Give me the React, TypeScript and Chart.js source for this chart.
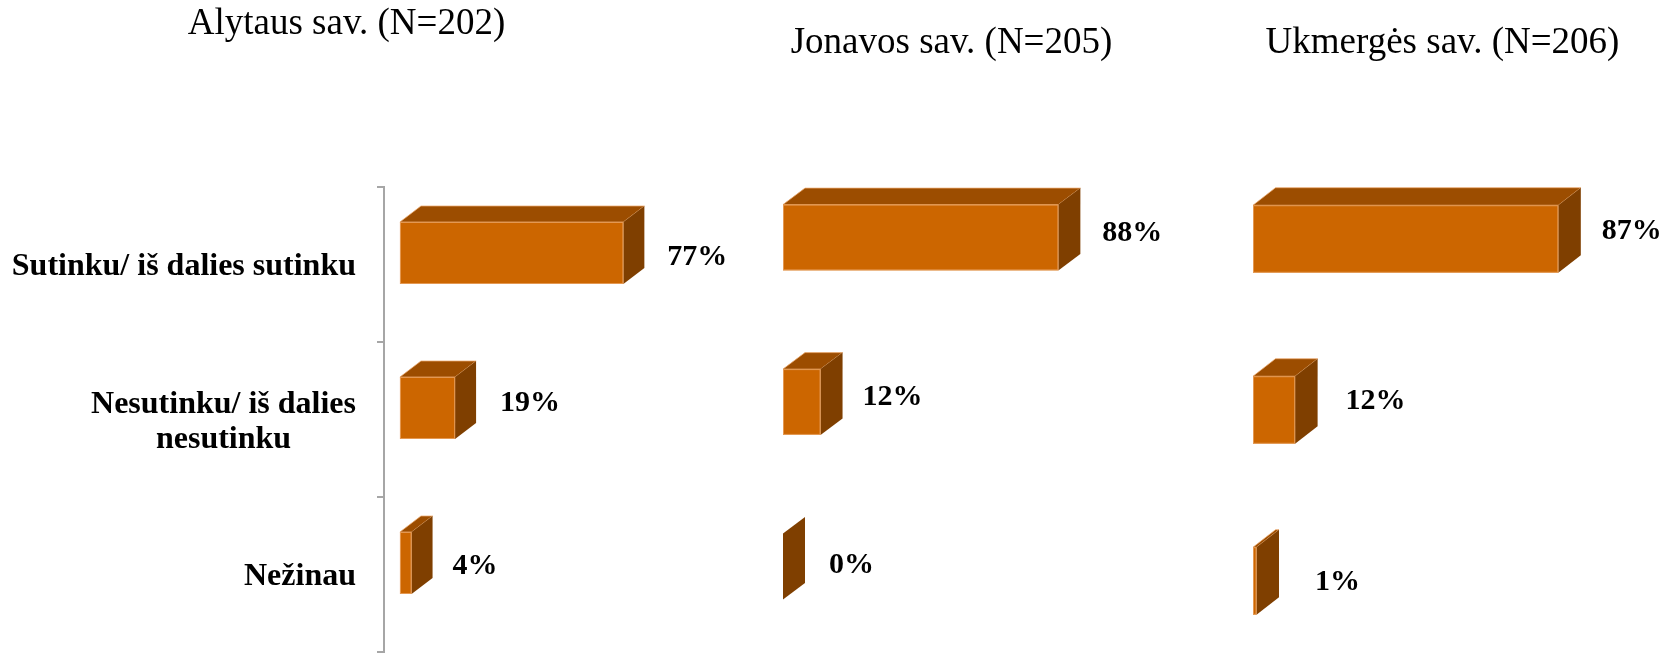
import React, { useEffect, useRef } from "react";
import { Chart, registerables } from "chart.js";

Chart.register(...registerables);

// ---------- data ----------
const categoryLabels: string[][] = [
  ["Sutinku/ iš dalies sutinku"],
  ["Nesutinku/ iš dalies", "nesutinku"],
  ["Nežinau"],
];
const panelTitles = ["Alytaus sav. (N=202)", "Jonavos sav. (N=205)", "Ukmergės sav. (N=206)"];
const alytausValues = [77, 19, 4];
const jonavosValues = [88, 12, 0];
const ukmergesValues = [87, 12, 1];

// ---------- styles ----------
const FRONT = "#CC6600";
const TOP = "#9C4D00";
const SIDE = "#7F3F00";
const EDGE = "rgba(236,170,110,0.75)";
const SERIF = '"Liberation Serif", "Times New Roman", serif';

type Panel = {
  title: string;
  values: number[];
  left: number;
  width: number;
  pad: { left: number; right: number; top: number; bottom: number };
  titlePad: { top: number; bottom: number };
  showAxis: boolean;
  axisWidth: number;
  xMin: number;
  xMax: number;
  barPct: number;
  shiftY: number;
  dx: number;
  dy: number;
  labelGap: number[];
  labelDy: number[];
};

const panels: Panel[] = [
  {
    title: panelTitles[0],
    values: alytausValues,
    left: 0,
    width: 740,
    pad: { left: 0, right: 47, top: 0, bottom: 3 },
    titlePad: { top: 1.8, bottom: 140.8 },
    showAxis: true,
    axisWidth: 384,
    xMin: -5.5,
    xMax: 101,
    barPct: 0.4,
    shiftY: -11.5,
    dx: 21,
    dy: 16,
    labelGap: [23, 24, 20],
    labelDy: [4, -5, 3],
  },
  {
    title: panelTitles[1],
    values: jonavosValues,
    left: 740,
    width: 500,
    pad: { left: 43, right: 120, top: 0, bottom: 6.25 },
    titlePad: { top: 20.8, bottom: 90.05 },
    showAxis: false,
    axisWidth: 0,
    xMin: 0,
    xMax: 107.7,
    barPct: 0.4,
    shiftY: 0,
    dx: 22,
    dy: 16.5,
    labelGap: [22, 20, 24],
    labelDy: [-4, -5, -1],
  },
  {
    title: panelTitles[2],
    values: ukmergesValues,
    left: 1240,
    width: 436,
    pad: { left: 13, right: 44, top: 0, bottom: 2 },
    titlePad: { top: 20.8, bottom: 74.8 },
    showAxis: false,
    axisWidth: 0,
    xMin: 0,
    xMax: 108,
    barPct: 0.395,
    shiftY: 13.5,
    dx: 22.5,
    dy: 17.5,
    labelGap: [21, 28, 36],
    labelDy: [-8, -9, 1],
  },
];

function makePlugin(p: Panel) {
  return {
    id: "bar3d",
    beforeDatasetDraw() {
      return false;
    },
    afterDatasetsDraw(chart: any) {
      const ctx = chart.ctx as CanvasRenderingContext2D;
      const meta = chart.getDatasetMeta(0);
      ctx.save();
      meta.data.forEach((el: any, i: number) => {
        const { x, y, base, height } = el.getProps(["x", "y", "base", "height"], true);
        const x0 = Math.min(base, x);
        const x1 = Math.max(base, x);
        const yc = y + p.shiftY;
        const y0 = yc - height / 2;
        const y1 = yc + height / 2;
        const dx = p.dx;
        const dy = p.dy;
        // top face
        if (x1 - x0 > 0.1) {
          ctx.beginPath();
          ctx.moveTo(x0, y0);
          ctx.lineTo(x0 + dx, y0 - dy);
          ctx.lineTo(x1 + dx, y0 - dy);
          ctx.lineTo(x1, y0);
          ctx.closePath();
          ctx.fillStyle = TOP;
          ctx.fill();
          ctx.strokeStyle = EDGE;
          ctx.lineWidth = 1;
          ctx.stroke();
        }
        // side face
        ctx.beginPath();
        ctx.moveTo(x1, y0);
        ctx.lineTo(x1 + dx, y0 - dy);
        ctx.lineTo(x1 + dx, y1 - dy);
        ctx.lineTo(x1, y1);
        ctx.closePath();
        ctx.fillStyle = SIDE;
        ctx.fill();
        // front face
        if (x1 - x0 > 0.1) {
          ctx.fillStyle = FRONT;
          ctx.fillRect(x0, y0, x1 - x0, y1 - y0);
          ctx.strokeStyle = EDGE;
          ctx.lineWidth = 1;
          ctx.strokeRect(x0 + 0.5, y0 + 0.5, x1 - x0 - 1, y1 - y0 - 1);
        }
        // value label
        ctx.fillStyle = "#000";
        ctx.font = `bold 30px ${SERIF}`;
        ctx.textAlign = "left";
        ctx.textBaseline = "middle";
        ctx.fillText(`${p.values[i]}%`, x1 + dx + p.labelGap[i], yc + p.labelDy[i]);
      });

      if (p.showAxis) {
        const yScale = chart.scales.y;
        ctx.font = `bold 32px ${SERIF}`;
        ctx.textAlign = "center";
        ctx.textBaseline = "middle";
        ctx.fillStyle = "#000";
        const right = chart.chartArea.left - 28;
        categoryLabels.forEach((lines, i) => {
          const c = yScale.getPixelForValue(i) + 2.5;
          const bw = Math.max(...lines.map((l) => ctx.measureText(l).width));
          const cx = right - bw / 2;
          lines.forEach((l, j) => {
            ctx.fillText(l, cx, c + (j - (lines.length - 1) / 2) * 35.5);
          });
        });
      }
      ctx.restore();
    },
  };
}

function PanelChart({ p }: { p: Panel }) {
  const ref = useRef<HTMLCanvasElement | null>(null);
  useEffect(() => {
    if (!ref.current) return;
    const chart = new Chart(ref.current, {
      type: "bar",
      data: {
        labels: categoryLabels,
        datasets: [
          {
            data: p.values,
            backgroundColor: FRONT,
            borderWidth: 0,
            barPercentage: p.barPct,
            categoryPercentage: 1,
          },
        ],
      },
      options: {
        indexAxis: "y",
        animation: false,
        responsive: false,
        devicePixelRatio: 1,
        layout: { padding: p.pad },
        plugins: {
          legend: { display: false },
          tooltip: { enabled: false },
          title: {
            display: true,
            text: p.title,
            color: "#000",
            font: { family: SERIF, size: 37, weight: "normal" },
            padding: p.titlePad,
          },
        },
        scales: {
          x: {
            type: "linear",
            display: false,
            min: p.xMin,
            max: p.xMax,
          },
          y: {
            type: "category",
            display: p.showAxis,
            afterFit: (scale: any) => {
              if (p.showAxis) scale.width = p.axisWidth;
            },
            grid: {
              display: true,
              drawOnChartArea: false,
              drawTicks: true,
              tickLength: 7,
              color: "#A6A6A6",
              lineWidth: 2,
            },
            border: { display: true, color: "#A6A6A6", width: 2 },
            ticks: { display: false },
          },
        },
      } as any,
      plugins: [makePlugin(p) as any],
    });
    return () => chart.destroy();
  }, [p]);
  return (
    <div style={{ position: "absolute", left: p.left, top: 0, width: p.width, height: 655 }}>
      <canvas ref={ref} width={p.width} height={655} style={{ width: p.width, height: 655, display: "block" }} />
    </div>
  );
}

export default function App() {
  return (
    <div
      style={{
        position: "absolute",
        left: 0,
        top: 0,
        width: 1676,
        height: 655,
        background: "#fff",
        overflow: "hidden",
      }}
    >
      {panels.map((p, i) => (
        <PanelChart key={i} p={p} />
      ))}
    </div>
  );
}
